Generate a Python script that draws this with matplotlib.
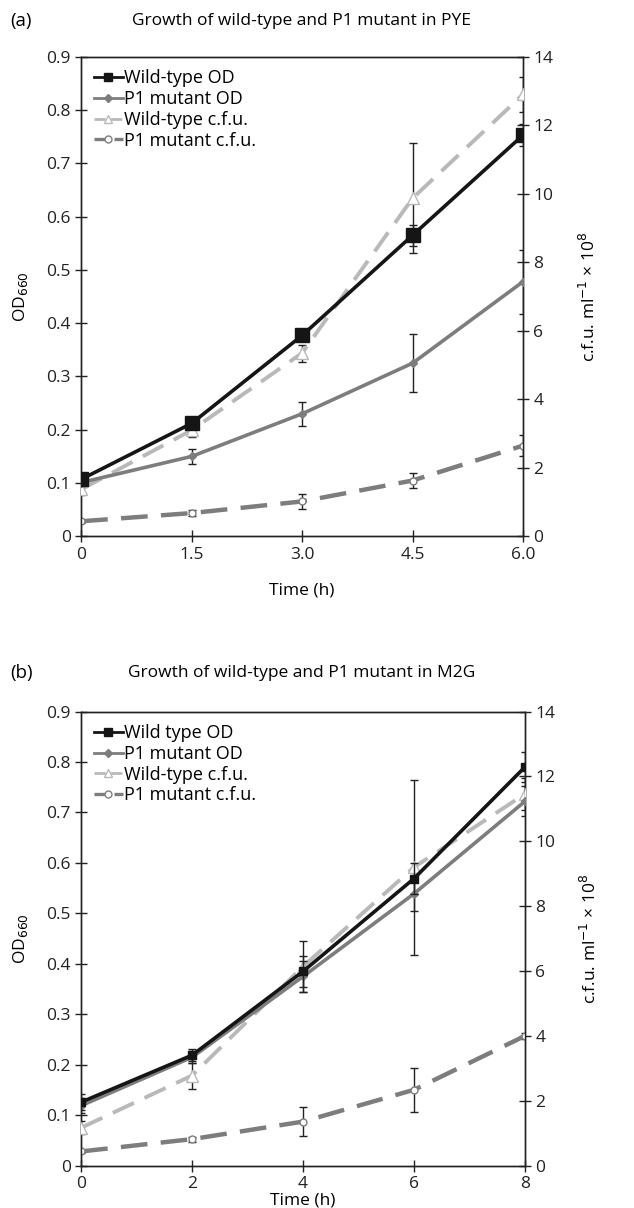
import matplotlib.pyplot as plt
from matplotlib.lines import Line2D

plt.rcParams['font.family'] = ['Open Sans', 'DejaVu Sans']

# ---- panel (a): PYE ----
time_a = [0, 1.5, 3.0, 4.5, 6.0]
wt_od_a = [0.107, 0.212, 0.377, 0.565, 0.753]
wt_od_err_a = [0.008, 0.008, 0.01, 0.02, 0.02]
p1_od_a = [0.101, 0.150, 0.230, 0.325, 0.478]
p1_od_err_a = [0.006, 0.014, 0.023, 0.055, 0.06]
wt_cfu_a = [1.37, 3.10, 5.35, 9.87, 12.90]
wt_cfu_err_a = [0.15, 0.2, 0.25, 1.6, 0.5]
p1_cfu_a = [0.44, 0.68, 1.02, 1.63, 2.65]
p1_cfu_err_a = [0.05, 0.08, 0.22, 0.21, 0.3]

# ---- panel (b): M2G ----
time_b = [0, 2, 4, 6, 8]
wt_od_b = [0.126, 0.219, 0.385, 0.569, 0.790]
wt_od_err_b = [0.016, 0.012, 0.03, 0.03, 0.03]
p1_od_b = [0.119, 0.215, 0.375, 0.539, 0.722]
p1_od_err_b = [0.015, 0.012, 0.03, 0.035, 0.03]
wt_cfu_b = [1.17, 2.78, 6.14, 9.20, 11.46]
wt_cfu_err_b = [0.2, 0.4, 0.8, 2.7, 0.5]
p1_cfu_b = [0.44, 0.82, 1.36, 2.34, 4.00]
p1_cfu_err_b = [0.05, 0.08, 0.44, 0.68, 0.1]

BLACK = '#151515'
GREY = '#7d7d7d'
LIGHT = '#b9b9b9'


def draw_panel(fig, rect, t, wt_od, wt_od_err, p1_od, p1_od_err,
               wt_cfu, wt_cfu_err, p1_cfu, p1_cfu_err,
               wt_label, xticks, xticklabels, sq_size, xpad):
    ax = fig.add_axes(rect)
    ax2 = ax.twinx()

    eb = dict(ecolor='#222222', elinewidth=1, capsize=3, capthick=1)

    # c.f.u. on the right axis
    ax2.errorbar(t, p1_cfu, yerr=p1_cfu_err, color=GREY, lw=3.2,
                 dashes=(6, 3), marker='o', ms=5, mfc='white', mec=GREY,
                 zorder=2, **eb)
    ax2.errorbar(t, wt_cfu, yerr=wt_cfu_err, color=LIGHT, lw=2.8,
                 dashes=(6, 3), marker='^', ms=8, mfc='white', mec=LIGHT,
                 zorder=3, **eb)
    # OD values, scaled onto the right axis so they sit on top
    ax2.errorbar(t, [v / 0.9 * 14 for v in p1_od],
                 yerr=[v / 0.9 * 14 for v in p1_od_err], color=GREY, lw=2.6,
                 marker='D', ms=4, zorder=4, **eb)
    ax2.errorbar(t, [v / 0.9 * 14 for v in wt_od],
                 yerr=[v / 0.9 * 14 for v in wt_od_err], color=BLACK, lw=2.6,
                 marker='s', ms=sq_size, zorder=5, **eb)

    ax.set_ylim(0, 0.9)
    ax.set_yticks([0, 0.1, 0.2, 0.3, 0.4, 0.5, 0.6, 0.7, 0.8, 0.9])
    ax.set_yticklabels(['0', '0.1', '0.2', '0.3', '0.4', '0.5', '0.6',
                        '0.7', '0.8', '0.9'])
    ax2.set_ylim(0, 14)
    ax2.set_yticks([0, 2, 4, 6, 8, 10, 12, 14])
    ax.set_xlim(t[0], t[-1])
    ax.set_xticks(xticks)
    ax.set_xticklabels(xticklabels)

    for a in (ax, ax2):
        a.tick_params(direction='inout', length=8, width=1, labelsize=12.5,
                      colors='#222222')
        for s in a.spines.values():
            s.set_linewidth(1)
            s.set_color('#222222')

    ax.set_xlabel('Time (h)', fontsize=12.5, labelpad=xpad)
    ax.set_ylabel('OD$_{660}$', fontsize=12.5, labelpad=12)
    ax2.set_ylabel('c.f.u. ml$^{-1}$ × 10$^{8}$', fontsize=12.5, labelpad=18)

    handles = [
        Line2D([], [], color=BLACK, lw=2, marker='s', ms=6),
        Line2D([], [], color=GREY, lw=2, marker='D', ms=4),
        Line2D([], [], color=LIGHT, lw=2, dashes=(4, 2), marker='^', ms=6,
               mfc='white', mec=LIGHT),
        Line2D([], [], color=GREY, lw=2.4, dashes=(4, 2), marker='o', ms=5,
               mfc='white', mec=GREY),
    ]
    labels = [wt_label, 'P1 mutant OD', 'Wild-type c.f.u.', 'P1 mutant c.f.u.']
    ax2.legend(handles, labels, loc='upper left', frameon=False, fontsize=13,
               handlelength=1.6, handletextpad=0.1, borderaxespad=0.3,
               labelspacing=0.15)
    return ax


fig = plt.figure(figsize=(6.34, 12.08), dpi=100)

draw_panel(fig, [0.128, 0.556, 0.697, 0.397], time_a,
           wt_od_a, wt_od_err_a, p1_od_a, p1_od_err_a,
           wt_cfu_a, wt_cfu_err_a, p1_cfu_a, p1_cfu_err_a,
           'Wild-type OD', time_a, ['0', '1.5', '3.0', '4.5', '6.0'], 10, 14)
fig.text(0.016, 0.983, '(a)', fontsize=13.5, va='center')
fig.text(0.475, 0.983, 'Growth of wild-type and P1 mutant in PYE',
         fontsize=12.5, ha='center', va='center')

draw_panel(fig, [0.128, 0.035, 0.700, 0.376], time_b,
           wt_od_b, wt_od_err_b, p1_od_b, p1_od_err_b,
           wt_cfu_b, wt_cfu_err_b, p1_cfu_b, p1_cfu_err_b,
           'Wild type OD', time_b, ['0', '2', '4', '6', '8'], 6, 0)
fig.text(0.016, 0.443, '(b)', fontsize=13.5, va='center')
fig.text(0.475, 0.443, 'Growth of wild-type and P1 mutant in M2G',
         fontsize=12.5, ha='center', va='center')

fig.savefig('out.png', dpi=100, facecolor='white')
